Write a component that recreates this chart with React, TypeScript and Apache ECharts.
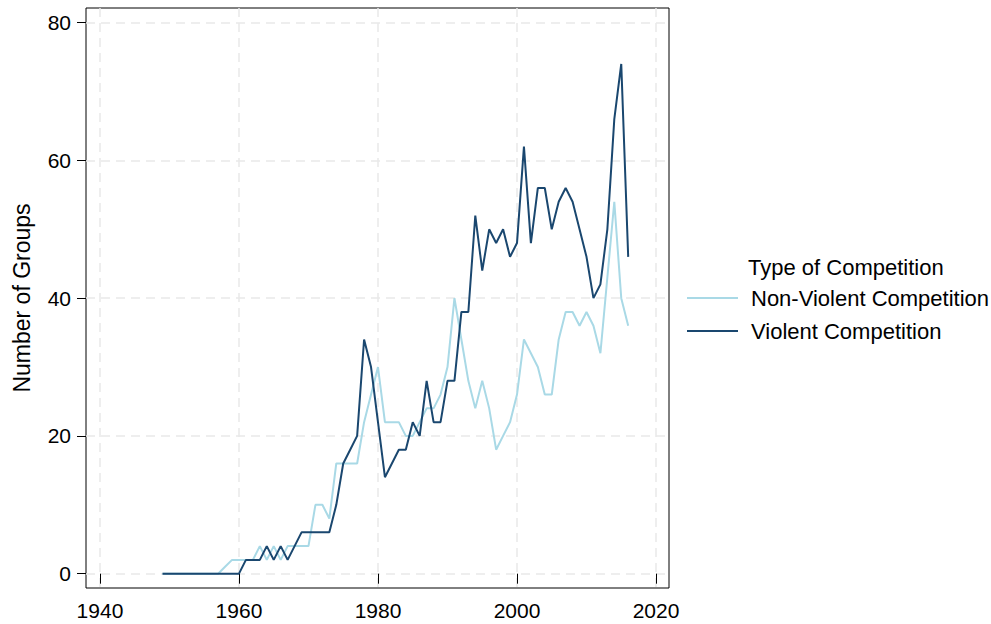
import React, { useEffect, useRef } from "react";
import * as echarts from "echarts";

const years: number[] = [
  1949, 1950, 1951, 1952, 1953, 1954, 1955, 1956, 1957, 1958, 1959,
  1960, 1961, 1962, 1963, 1964, 1965, 1966, 1967, 1968, 1969,
  1970, 1971, 1972, 1973, 1974, 1975, 1976, 1977, 1978, 1979,
  1980, 1981, 1982, 1983, 1984, 1985, 1986, 1987, 1988, 1989,
  1990, 1991, 1992, 1993, 1994, 1995, 1996, 1997, 1998, 1999,
  2000, 2001, 2002, 2003, 2004, 2005, 2006, 2007, 2008, 2009,
  2010, 2011, 2012, 2013, 2014, 2015, 2016,
];

const nonViolent: number[] = [
  0, 0, 0, 0, 0, 0, 0, 0, 0, 1, 2,
  2, 2, 2, 4, 2, 4, 2, 4, 4, 4,
  4, 10, 10, 8, 16, 16, 16, 16, 22, 26,
  30, 22, 22, 22, 20, 20, 22, 24, 24, 26,
  30, 40, 34, 28, 24, 28, 24, 18, 20, 22,
  26, 34, 32, 30, 26, 26, 34, 38, 38, 36,
  38, 36, 32, 43, 54, 40, 36,
];

const violent: number[] = [
  0, 0, 0, 0, 0, 0, 0, 0, 0, 0, 0,
  0, 2, 2, 2, 4, 2, 4, 2, 4, 6,
  6, 6, 6, 6, 10, 16, 18, 20, 34, 30,
  22, 14, 16, 18, 18, 22, 20, 28, 22, 22,
  28, 28, 38, 38, 52, 44, 50, 48, 50, 46,
  48, 62, 48, 56, 56, 50, 54, 56, 54, 50,
  46, 40, 42, 50, 66, 74, 46,
];

const xTicks: number[] = [1940, 1960, 1980, 2000, 2020];
const yTicks: number[] = [0, 20, 40, 60, 80];

const seriesNames: string[] = ["Non-Violent Competition", "Violent Competition"];
const seriesColors: string[] = ["#a9d9e6", "#1a476f"];
const legendTitle = "Type of Competition";
const yTitle = "Number of Groups";

const FONT = "'Liberation Sans', Arial, Helvetica, sans-serif";

export default function App() {
  const ref = useRef<HTMLDivElement>(null);

  useEffect(() => {
    if (!ref.current) return;
    const chart = echarts.init(ref.current, undefined, { renderer: "svg" });

    const gridLine = {
      show: true,
      lineStyle: { color: "#e9e9e9", width: 1.5, type: [9, 6] as any },
    };

    const option: any = {
      animation: false,
      backgroundColor: "#ffffff",
      textStyle: { fontFamily: FONT },
      title: {
        text: legendTitle,
        left: 748,
        top: 256,
        padding: 0,
        textStyle: {
          fontFamily: FONT,
          fontSize: 22,
          fontWeight: "normal",
          color: "#000",
          lineHeight: 22,
        },
      },
      legend: {
        orient: "vertical",
        left: 687,
        top: 287,
        padding: 0,
        icon: "rect",
        itemWidth: 51,
        itemHeight: 2,
        itemGap: 11,
        data: seriesNames,
        textStyle: {
          fontFamily: FONT,
          fontSize: 22,
          color: "#000",
          lineHeight: 22,
          padding: [0, 0, 0, 8],
        },
      },
      grid: {
        left: 86,
        top: 8,
        right: 322,
        bottom: 36,
        show: true,
        borderColor: "#000",
        borderWidth: 1,
        backgroundColor: "#ffffff",
      },
      xAxis: {
        type: "value",
        min: 1937.99,
        max: 2021.87,
        axisLine: { show: false },
        axisTick: {
          show: true,
          length: 10,
          customValues: xTicks,
          lineStyle: { color: "#000", width: 1 },
        },
        axisLabel: {
          customValues: xTicks,
          margin: 12,
          fontSize: 21,
          color: "#000",
          fontFamily: FONT,
          formatter: (v: number) => String(v),
        },
        splitLine: gridLine,
      },
      yAxis: {
        type: "value",
        min: -2.08,
        max: 82.13,
        name: yTitle,
        nameLocation: "middle",
        nameGap: 53,
        nameTextStyle: { fontSize: 23, color: "#000", fontFamily: FONT },
        axisLine: { show: false },
        axisTick: {
          show: true,
          length: 9,
          customValues: yTicks,
          lineStyle: { color: "#000", width: 1 },
        },
        axisLabel: {
          customValues: yTicks,
          margin: 15,
          fontSize: 21,
          color: "#000",
          fontFamily: FONT,
          formatter: (v: number) => String(v),
        },
        splitLine: gridLine,
      },
      series: [
        {
          name: seriesNames[0],
          type: "line",
          symbol: "none",
          data: years.map((y, i) => [y, nonViolent[i]]),
          lineStyle: { color: seriesColors[0], width: 2 },
          itemStyle: { color: seriesColors[0] },
        },
        {
          name: seriesNames[1],
          type: "line",
          symbol: "none",
          data: years.map((y, i) => [y, violent[i]]),
          lineStyle: { color: seriesColors[1], width: 2 },
          itemStyle: { color: seriesColors[1] },
        },
      ],
    };

    chart.setOption(option);
    return () => chart.dispose();
  }, []);

  return (
    <div
      ref={ref}
      style={{ position: "fixed", left: 0, top: 0, width: 991, height: 624, background: "#fff" }}
    />
  );
}
